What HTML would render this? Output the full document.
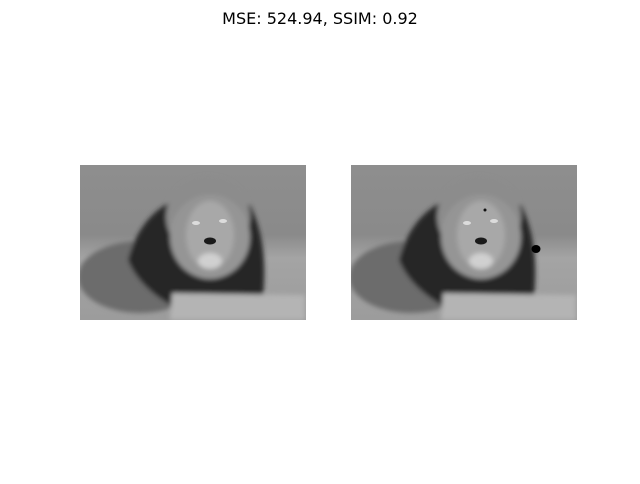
<!DOCTYPE html>
<html><head><meta charset="utf-8"><style>
body{margin:0;background:#fff;width:640px;height:480px;overflow:hidden;font-family:"DejaVu Sans","Liberation Sans",sans-serif}
</style></head><body>
<svg width="640" height="480" xmlns="http://www.w3.org/2000/svg">
<defs>
<linearGradient id="bg" x1="0" y1="0" x2="0" y2="1">
<stop offset="0" stop-color="#8e8e8e"/><stop offset="0.45" stop-color="#8a8a8a"/><stop offset="0.6" stop-color="#a4a4a4"/><stop offset="1" stop-color="#9c9c9c"/>
</linearGradient>
<filter id="bl"><feGaussianBlur stdDeviation="2.5"/></filter>
</defs>
<text x="320" y="24" text-anchor="middle" font-size="16" font-family="DejaVu Sans, sans-serif" fill="#000">MSE: 524.94, SSIM: 0.92</text>
<g transform="translate(80,165)">
<svg width="226" height="155" viewBox="0 0 226 155">
<rect width="226" height="155" fill="url(#bg)"/>
<g filter="url(#bl)">
<ellipse cx="60" cy="112" rx="62" ry="36" fill="#6c6c6c"/>
<path d="M48 95 Q60 50 95 35 L170 40 Q190 80 182 140 L100 145 Q60 125 48 95Z" fill="#262626"/>
<ellipse cx="128" cy="52" rx="42" ry="40" fill="#8c8c8c"/>
<ellipse cx="130" cy="72" rx="40" ry="42" fill="#959595"/>
<ellipse cx="130" cy="70" rx="24" ry="34" fill="#a8a8a8"/>
<ellipse cx="130" cy="96" rx="12" ry="8" fill="#d0d0d0"/>
<path d="M92 128 L225 130 L225 155 L90 155Z" fill="#b4b4b4"/>
</g>
<ellipse cx="130" cy="76" rx="6" ry="3.5" fill="#1a1a1a"/>
<ellipse cx="116" cy="58" rx="4" ry="2" fill="#dcdcdc"/>
<ellipse cx="143" cy="56" rx="4" ry="2" fill="#dcdcdc"/>
</svg>
</g>
<g transform="translate(351,165)">
<svg width="226" height="155" viewBox="0 0 226 155">
<rect width="226" height="155" fill="url(#bg)"/>
<g filter="url(#bl)">
<ellipse cx="60" cy="112" rx="62" ry="36" fill="#6c6c6c"/>
<path d="M48 95 Q60 50 95 35 L170 40 Q190 80 182 140 L100 145 Q60 125 48 95Z" fill="#262626"/>
<ellipse cx="128" cy="52" rx="42" ry="40" fill="#8c8c8c"/>
<ellipse cx="130" cy="72" rx="40" ry="42" fill="#959595"/>
<ellipse cx="130" cy="70" rx="24" ry="34" fill="#a8a8a8"/>
<ellipse cx="130" cy="96" rx="12" ry="8" fill="#d0d0d0"/>
<path d="M92 128 L225 130 L225 155 L90 155Z" fill="#b4b4b4"/>
</g>
<ellipse cx="130" cy="76" rx="6" ry="3.5" fill="#1a1a1a"/>
<ellipse cx="116" cy="58" rx="4" ry="2" fill="#dcdcdc"/>
<ellipse cx="143" cy="56" rx="4" ry="2" fill="#dcdcdc"/>
<circle cx="134" cy="45" r="1.5" fill="#111"/>
<ellipse cx="185" cy="84" rx="4.5" ry="4" fill="#000"/>
</svg>
</g>
</svg>
</body></html>
